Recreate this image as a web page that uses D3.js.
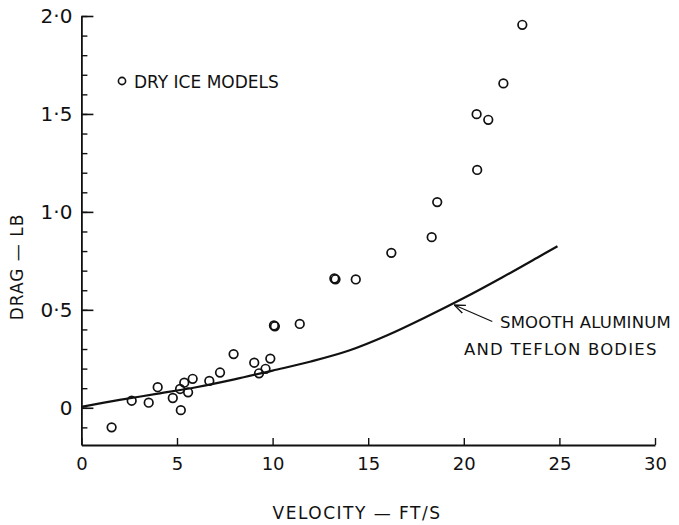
<!DOCTYPE html>
<html>
<head>
<meta charset="utf-8">
<script src="https://cdn.jsdelivr.net/npm/d3@7"></script>
<style>
  body { margin: 0; background: #fff; }
  svg text { font-family: "DejaVu Sans", sans-serif; fill: #111; }
</style>
</head>
<body>
<svg id="chart" width="679" height="525"></svg>
<script>
// dry ice model measurements (velocity ft/s, drag lb)
const iceVelocity = [1.58, 2.63, 3.52, 3.99, 4.78, 5.2, 5.16, 5.38, 5.58, 5.82,
  6.69, 7.25, 7.96, 9.04, 9.29, 9.63, 9.88, 10.07, 10.12, 11.42,
  13.23, 13.29, 14.35, 16.21, 18.32, 18.61, 20.7, 20.67, 21.28, 22.07, 23.06];
const iceDrag = [-0.10, 0.036, 0.026, 0.105, 0.05, -0.012, 0.096, 0.128, 0.079, 0.148,
  0.137, 0.18, 0.274, 0.23, 0.176, 0.199, 0.251, 0.42, 0.416, 0.428,
  0.66, 0.656, 0.655, 0.791, 0.871, 1.05, 1.214, 1.499, 1.47, 1.656, 1.955];

// smooth aluminum / teflon curve
const curveVelocity = [0, 2, 4, 6, 8, 10, 12, 14, 16, 18, 20, 22, 24, 24.9];
const curveDrag = [0.005, 0.04, 0.072, 0.105, 0.145, 0.19, 0.236, 0.292, 0.37, 0.462, 0.56, 0.665, 0.775, 0.825];

const xTicks = [0, 5, 10, 15, 20, 25, 30];
const yTicks = [0, 0.5, 1.0, 1.5, 2.0];
const yMinor = d3.range(-1, 21).map(i => i / 10);

const svg = d3.select("#chart");

const x = d3.scaleLinear().domain([0, 30]).range([81.4, 655]);
const y = d3.scaleLinear().domain([-0.19, 2.0]).range([445, 16]);

// y axis - minor ticks
svg.append("g")
  .attr("transform", `translate(${x(0)},0)`)
  .call(d3.axisLeft(y).tickValues(yMinor).tickSize(-6).tickSizeOuter(0).tickFormat(""))
  .call(g => g.selectAll("line").attr("stroke", "#111").attr("stroke-width", 1.4))
  .call(g => g.select(".domain").attr("stroke", "#111").attr("stroke-width", 1.8));

// y axis - major ticks
svg.append("g")
  .attr("transform", `translate(${x(0)},0)`)
  .call(d3.axisLeft(y).tickValues(yTicks).tickSize(-12).tickSizeOuter(0).tickPadding(9)
    .tickFormat(d => d === 0 ? "0" : d3.format(".1f")(d).replace(".", "·")))
  .call(g => g.select(".domain").remove())
  .call(g => g.selectAll("line").attr("stroke", "#111").attr("stroke-width", 1.6))
  .call(g => g.selectAll("text").style("font-size", "20px").attr("fill", "#111"));

// x axis
svg.append("g")
  .attr("transform", `translate(0,${y(-0.19)})`)
  .call(d3.axisBottom(x).tickValues(xTicks).tickSize(-7).tickSizeOuter(0).tickPadding(12))
  .call(g => g.select(".domain").attr("stroke", "#111").attr("stroke-width", 1.8))
  .call(g => g.selectAll("line").attr("stroke", "#111").attr("stroke-width", 1.4))
  .call(g => g.selectAll("text").style("font-size", "18px").attr("fill", "#111"));

// axis titles
svg.append("text")
  .attr("transform", "translate(23,267) rotate(-90)")
  .attr("text-anchor", "middle")
  .style("font-size", "17px")
  .style("letter-spacing", "1px")
  .text("DRAG — LB");

svg.append("text")
  .attr("x", 357)
  .attr("y", 519)
  .attr("text-anchor", "middle")
  .style("font-size", "17px")
  .style("letter-spacing", "1.5px")
  .text("VELOCITY — FT/S");

// reference curve
const line = d3.line()
  .x(d => x(d[0]))
  .y(d => y(d[1]))
  .curve(d3.curveCatmullRom);

svg.append("path")
  .datum(curveVelocity.map((v, i) => [v, curveDrag[i]]))
  .attr("d", line)
  .attr("fill", "none")
  .attr("stroke", "#111")
  .attr("stroke-width", 2.2);

// data points
svg.append("g")
  .selectAll("circle")
  .data(iceVelocity.map((v, i) => [v, iceDrag[i]]))
  .join("circle")
  .attr("cx", d => x(d[0]))
  .attr("cy", d => y(d[1]))
  .attr("r", 4.3)
  .attr("fill", "none")
  .attr("stroke", "#111")
  .attr("stroke-width", 1.7);

// legend
svg.append("circle")
  .attr("cx", 122).attr("cy", 81).attr("r", 3.6)
  .attr("fill", "none").attr("stroke", "#111").attr("stroke-width", 1.6);
svg.append("text")
  .attr("x", 134).attr("y", 88)
  .style("font-size", "17px")
  .text("DRY ICE MODELS");

// annotation with arrow
svg.append("defs").append("marker")
  .attr("id", "arrow")
  .attr("viewBox", "0 0 10 10")
  .attr("refX", 10).attr("refY", 5)
  .attr("markerWidth", 9).attr("markerHeight", 9)
  .attr("orient", "auto")
  .append("path")
  .attr("d", "M0,1 L10,5 L0,9")
  .attr("fill", "none")
  .attr("stroke", "#111")
  .attr("stroke-width", 1.2);

const tipX = x(19.45), tipY = y(0.527);
svg.append("line")
  .attr("x1", tipX + 39).attr("y1", tipY + 17)
  .attr("x2", tipX + 1).attr("y2", tipY + 0.5)
  .attr("stroke", "#111")
  .attr("stroke-width", 1.2)
  .attr("marker-end", "url(#arrow)");

svg.append("text")
  .attr("x", 500).attr("y", 328)
  .style("font-size", "16.5px")
  .style("letter-spacing", "0.2px")
  .text("SMOOTH ALUMINUM");
svg.append("text")
  .attr("x", 464).attr("y", 355)
  .style("font-size", "16.5px")
  .style("letter-spacing", "1.2px")
  .text("AND TEFLON BODIES");
</script>
</body>
</html>
